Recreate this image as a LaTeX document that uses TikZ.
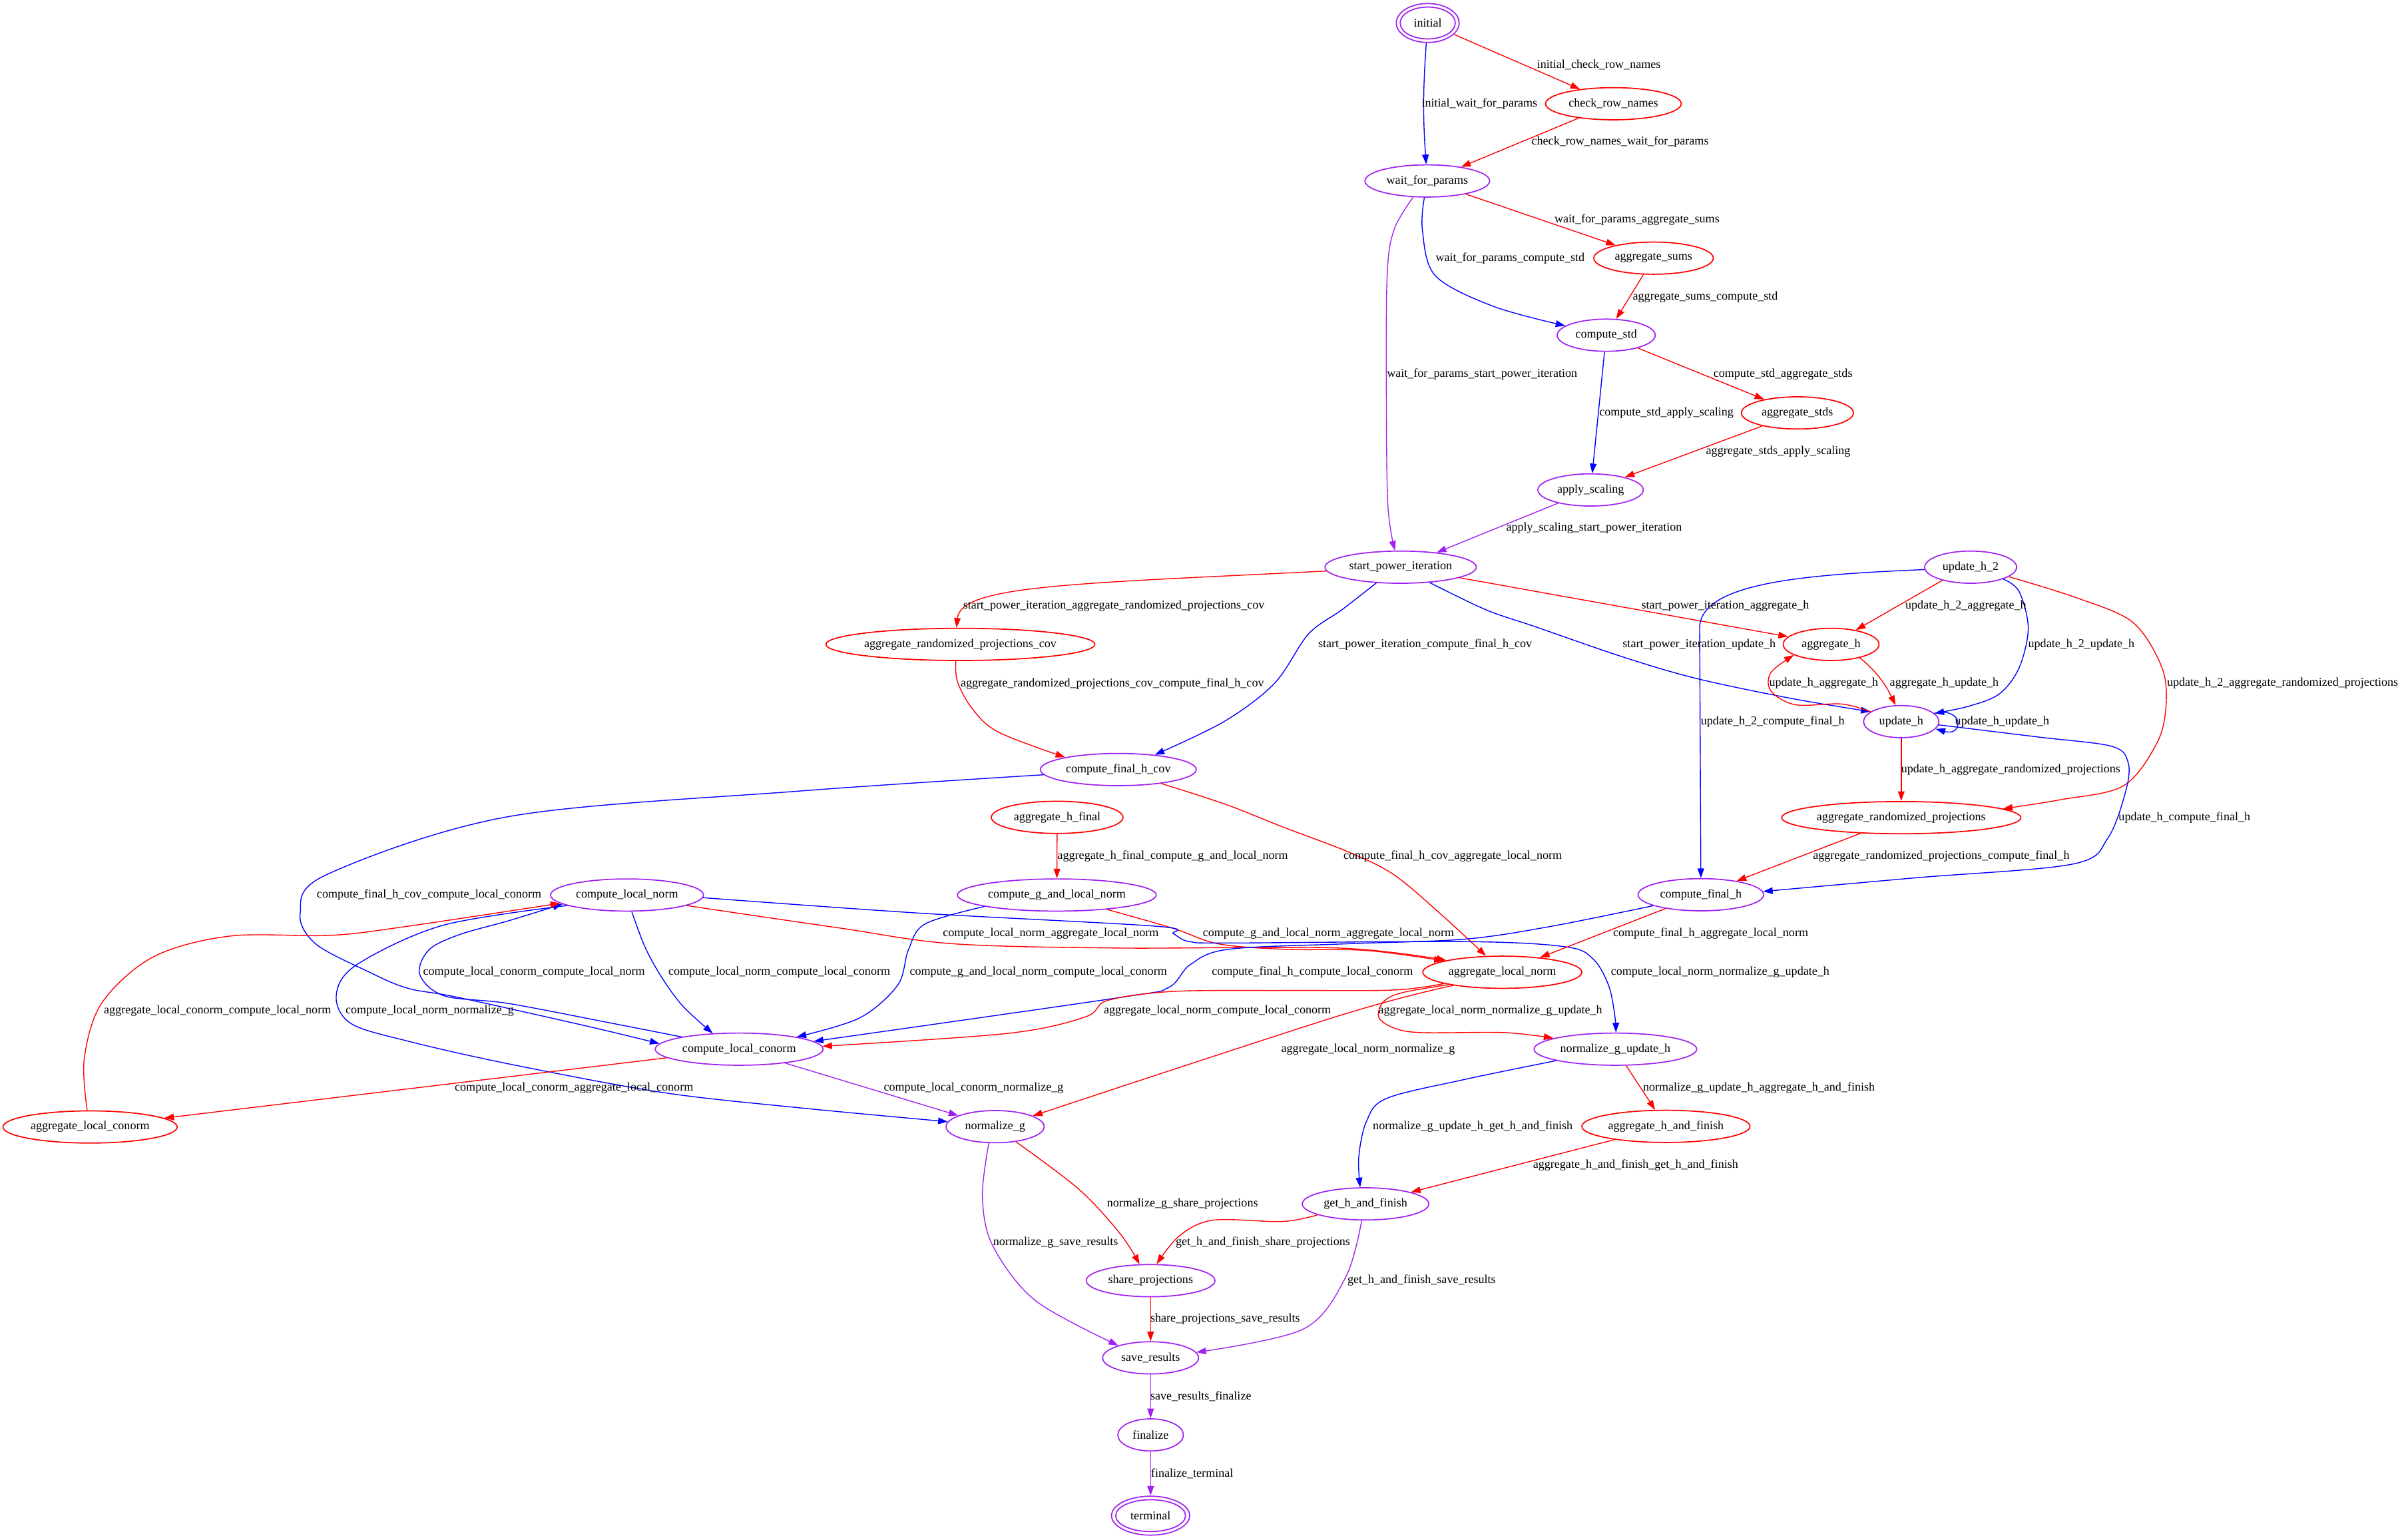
\documentclass[tikz,border=0pt]{standalone}
\usepackage{fontspec}
\setmainfont{Liberation Serif}
\usetikzlibrary{arrows.meta,shapes.geometric}
\definecolor{gvpurple}{HTML}{A020F0}
\begin{document}
\begin{tikzpicture}[x=1pt,y=-1pt,
  font=\fontsize{7.85pt}{9pt}\selectfont,
  st/.style={ellipse, draw, line width=0.75pt, inner sep=0pt, inner xsep=-60pt, inner ysep=-20pt, minimum height=21pt},
  pn/.style={st, draw=gvpurple},
  rn/.style={st, draw=red},
  e/.style={line width=0.6pt, -{Triangle[length=6.3pt,width=4.3pt]}},
  sm/.style={smooth, tension=0.55},
  lab/.style={inner sep=0pt, anchor=center}]
\useasboundingbox (0,0) rectangle (1568,1005);

% ---------------- nodes ----------------
\node[pn, minimum width=41pt, minimum height=25.4pt] (initial) at (932,15) {initial};
\draw[gvpurple, line width=0.75pt] (initial.center) ellipse [x radius=18pt, y radius=10.4pt];
\node[rn, minimum width=88.6pt] (crn) at (1053.2,67.7) {check\_row\_names};
\node[pn, minimum width=81.4pt] (wfp) at (931.7,118.1) {wait\_for\_params};
\node[rn, minimum width=78pt] (asum) at (1079.4,168.5) {aggregate\_sums};
\node[pn, minimum width=64pt] (cstd) at (1048.5,218.8) {compute\_std};
\node[rn, minimum width=73.2pt] (astd) at (1173.3,269.5) {aggregate\_stds};
\node[pn, minimum width=68.8pt] (aps) at (1038.3,319.8) {apply\_scaling};
\node[pn, minimum width=98.8pt] (spi) at (914.3,370.2) {start\_power\_iteration};
\node[rn, minimum width=175.6pt] (arpc) at (626.9,420.6) {aggregate\_randomized\_projections\_cov};
\node[pn, minimum width=101.8pt] (cfhc) at (730,502.3) {compute\_final\_h\_cov};
\node[rn, minimum width=86pt] (ahfin) at (690.1,533.5) {aggregate\_h\_final};
\node[pn, minimum width=60pt] (uh2) at (1286.4,370.2) {update\_h\_2};
\node[rn, minimum width=62.6pt] (ah) at (1195.3,420.6) {aggregate\_h};
\node[pn, minimum width=49.2pt] (uh) at (1241.1,471) {update\_h};
\node[rn, minimum width=156.2pt] (arp) at (1241.1,533.7) {aggregate\_randomized\_projections};
\node[pn, minimum width=82pt] (cfh) at (1110.3,584) {compute\_final\_h};
\node[pn, minimum width=99.8pt] (cln) at (409.3,584.2) {compute\_local\_norm};
\node[pn, minimum width=109.6pt] (clc) at (482.5,684.8) {compute\_local\_conorm};
\node[rn, minimum width=113.8pt] (alc) at (58.8,735.6) {aggregate\_local\_conorm};
\node[pn, minimum width=129.8pt] (cgln) at (689.9,584.2) {compute\_g\_and\_local\_norm};
\node[rn, minimum width=103.8pt] (aln) at (980.7,634.6) {aggregate\_local\_norm};
\node[pn, minimum width=64pt] (ng) at (649.6,735.4) {normalize\_g};
\node[pn, minimum width=106.2pt] (ngu) at (1054.5,684.8) {normalize\_g\_update\_h};
\node[rn, minimum width=109.8pt] (ahf) at (1087.5,735.2) {aggregate\_h\_and\_finish};
\node[pn, minimum width=82.6pt] (ghf) at (891.4,785.8) {get\_h\_and\_finish};
\node[pn, minimum width=84pt] (sp) at (751.1,835.9) {share\_projections};
\node[pn, minimum width=62.6pt] (sr) at (751.1,886.3) {save\_results};
\node[pn, minimum width=42.8pt] (fin) at (751.1,936.6) {finalize};
\node[pn, minimum width=51pt, minimum height=25.4pt] (term) at (751.1,989.3) {terminal};
\draw[gvpurple, line width=0.75pt] (term.center) ellipse [x radius=22.8pt, y radius=10.4pt];

% ---------------- edges ----------------
\draw[e,red] (initial) -- (crn);
\draw[e,blue] (initial) to[bend right=4] (wfp);
\draw[e,red] (crn) -- (wfp);
\draw[e,red] (wfp) -- (asum);
\draw[e,blue] plot[sm] coordinates {(wfp.-100) (928.5,150) (937,180) (975,200) (cstd.167)};
\draw[e,gvpurple] plot[sm] coordinates {(wfp.-131) (910,150) (905.5,180) (905,260) (906,330) (spi.109)};
\draw[e,red] (asum) -- (cstd);
\draw[e,red] (cstd) -- (astd);
\draw[e,blue] (cstd) -- (aps);
\draw[e,red] (astd) -- (aps);
\draw[e,gvpurple] (aps) -- (spi);
\draw[e,red] (spi.-177) .. controls (700,381) and (627,382) .. (arpc.103);
\draw[e,blue] plot[sm] coordinates {(spi.-147) (876,398) (854,414) (832,446) (799,471) (cfhc.22)};
\draw[e,red] (spi) -- (ah);
\draw[e,blue] plot[sm] coordinates {(spi.-28) (970,398) (1002,409) (1060,429) (1108,443) (1170,456) (uh.162)};
\draw[e,red] (uh2.-155) -- (ah.30);
\draw[e,blue] plot[sm] coordinates {(uh2.-20) (1318,386) (1324,410) (1318,436) (1305,453) (1285,461) (uh.14)};
\draw[e,blue] (uh2.-177) .. controls (1180,375) and (1109.5,380) .. (1109.5,410) -- (cfh.90);
\draw[e,red] plot[sm] coordinates {(uh2.-14) (1355,390) (1392,406) (1411,435) (1414,460) (1408,485) (1386,513) (1345,522) (arp.5)};
\draw[e,red] (ah.-25) to[out=-40,in=116] (uh.109);
\draw[e,red] plot[sm] coordinates {(uh.162) (1202,459.5) (1172,460) (1156,451) (1156,439) (ah.-164)};
\draw[e,blue] (uh.14) .. controls (1282,461) and (1282,481) .. (uh.-12);
\draw[e,red] (uh) -- (arp);
\draw[e,blue] plot[sm] coordinates {(uh.-5) (1330,481) (1378,487) (1389,497) (1388,515) (1376,547) (1353,564) (1250,573) (cfh.3)};
\draw[e,red] (arp) -- (cfh);
\draw[e,red] plot[sm] coordinates {(arpc.-105) (625,445) (635,463) (652,478) (cfhc.167)};
\draw[e,blue] plot[sm] coordinates {(cfhc.-176) (521,516.4) (332,533) (213,571) (196,596) (206,616) (240,634) (266,645) (299,651) (382,669.5) (clc.176)};
\draw[e,red] plot[sm] coordinates {(cfhc.-18) (800,525) (838,540) (880,556) (910,571) (942,598) (aln.135)};
\draw[e,red] (ahfin) -- (cgln);
\draw[e,blue] plot[sm] coordinates {(cgln.-171) (604,603) (593,620) (586,643) (561,664.5) (clc.12)};
\draw[e,red] plot[sm] coordinates {(cgln.-16) (766,606) (795,616) (838,619.6) (892,620.4) (aln.169)};
\draw[e,red] plot[sm] coordinates {(cln.-10) (478,595.5) (550,606) (622,616) (730,618.8) (874,618.8) (aln.168)};
\draw[e,blue] plot[sm] coordinates {(cln.-74) (421,618) (432,638) (446,657) (clc.149)};
\draw[e,blue] plot[sm] coordinates {(cln.-2) (600,596) (755,604.6) (766,609.5) (776,614.5) (802,615.5) (957,614.6) (1022,618) (1040,626) (1050,643) (1054,662) (ngu.88)};
\draw[e,blue] plot[sm] coordinates {(cln.-170) (289,604) (233,629.6) (219.5,649.6) (229,668) (266,679.5) (332.5,694.5) (432,713) (521,723) (ng.174)};
\draw[e,blue] plot[sm] coordinates {(clc.168) (400,668) (332,655) (290,650) (274,636) (280,620) (300,610) (332,601) (cln.-172)};
\draw[e,red] plot[sm] coordinates {(alc.100) (55,691) (66.5,654.6) (100,624.6) (150,611) (216,610.5) (266,604.6) (cln.-173)};
\draw[e,red] (clc) -- (alc);
\draw[e,blue] plot[sm] coordinates {(cfh.-167) (1011.6,604.8) (956,613) (880,616) (802,619.6) (777,629.6) (762.7,644.6) (730.3,651.2) (clc.6)};
\draw[e,red] plot[sm] coordinates {(aln.-169) (910,646.2) (840,646.5) (766,647.1) (723,653) (708.6,663.7) (658,674.5) (clc.2)};
\draw[e,red] plot[sm] coordinates {(aln.-165) (874,663) (ng.16)};
\draw[e,red] plot[sm] coordinates {(aln.-167) (915,648) (903,654) (900,664) (910,671) (928,674) (982,674) (ngu.170)};
\draw[e,red] (cfh) -- (aln);
\draw[e,gvpurple] (clc) -- (ng);
\draw[e,blue] plot[sm] coordinates {(ngu.-169) (956,704.6) (905,717) (892,732) (887,755) (ghf.108)};
\draw[e,red] (ngu) -- (ahf);
\draw[e,red] (ahf) -- (ghf);
\draw[e,red] plot[sm] coordinates {(ng.-36) (704,776) (731,805) (sp.124)};
\draw[e,gvpurple] plot[sm] coordinates {(ng.-111) (641.3,781) (648,813) (676,849) (sr.159)};
\draw[e,red] plot[sm] coordinates {(ghf.-167) (837,797.3) (792,796.4) (770,806.6) (sp.70)};
\draw[e,gvpurple] plot[sm] coordinates {(ghf.-103) (878.4,833.7) (850.6,867.6) (sr.7)};
\draw[e,red] (sp) -- (sr);
\draw[e,gvpurple] (sr) -- (fin);
\draw[e,gvpurple] (fin) -- (term);

% ---------------- edge labels ----------------
\node[lab] (l1) at (1043.7,42.5) {initial\_check\_row\_names};
\node[lab] (l2) at (965.8,67.7) {initial\_wait\_for\_params};
\node[lab] (l3) at (1057.6,92.7) {check\_row\_names\_wait\_for\_params};
\node[lab] (l4) at (1068.6,143.5) {wait\_for\_params\_aggregate\_sums};
\node[lab] (l5) at (985.8,168.5) {wait\_for\_params\_compute\_std};
\node[lab] (l6) at (1113.2,193.9) {aggregate\_sums\_compute\_std};
\node[lab] (l7) at (967.5,244.1) {wait\_for\_params\_start\_power\_iteration};
\node[lab] (l8) at (1163.9,244.1) {compute\_std\_aggregate\_stds};
\node[lab] (l9) at (1087.8,269.5) {compute\_std\_apply\_scaling};
\node[lab] (l10) at (1160.8,294.9) {aggregate\_stds\_apply\_scaling};
\node[lab] (l11) at (1040.6,344.9) {apply\_scaling\_start\_power\_iteration};
\node[lab] (l12) at (727.1,395.5) {start\_power\_iteration\_aggregate\_randomized\_projections\_cov};
\node[lab] (l13) at (726.1,446.2) {aggregate\_randomized\_projections\_cov\_compute\_final\_h\_cov};
\node[lab] (l14) at (930.3,420.9) {start\_power\_iteration\_compute\_final\_h\_cov};
\node[lab] (l15) at (1126.2,395.5) {start\_power\_iteration\_aggregate\_h};
\node[lab] (l16) at (1109.2,420.9) {start\_power\_iteration\_update\_h};
\node[lab] (l17) at (1157.2,471.2) {update\_h\_2\_compute\_final\_h};
\node[lab] (l18) at (1190.5,445.9) {update\_h\_aggregate\_h};
\node[lab] (l19) at (1283.3,395.6) {update\_h\_2\_aggregate\_h};
\node[lab] (l20) at (1358.7,420.6) {update\_h\_2\_update\_h};
\node[lab] (l21) at (1490,445.9) {update\_h\_2\_aggregate\_randomized\_projections};
\node[lab] (l22) at (1269.2,445.9) {aggregate\_h\_update\_h};
\node[lab] (l23) at (1307,471) {update\_h\_update\_h};
\node[lab] (l24) at (1312.6,502.5) {update\_h\_aggregate\_randomized\_projections};
\node[lab] (l25) at (1426,533.7) {update\_h\_compute\_final\_h};
\node[lab] (l26) at (1267.2,559) {aggregate\_randomized\_projections\_compute\_final\_h};
\node[lab] (l27) at (280.1,584.2) {compute\_final\_h\_cov\_compute\_local\_conorm};
\node[lab] (l28) at (348.6,634.6) {compute\_local\_conorm\_compute\_local\_norm};
\node[lab] (l29) at (508.7,634.6) {compute\_local\_norm\_compute\_local\_conorm};
\node[lab] (l30) at (142,659.9) {aggregate\_local\_conorm\_compute\_local\_norm};
\node[lab] (l31) at (280.5,659.9) {compute\_local\_norm\_normalize\_g};
\node[lab] (l32) at (374.7,710.3) {compute\_local\_conorm\_aggregate\_local\_conorm};
\node[lab] (l33) at (765.6,558.9) {aggregate\_h\_final\_compute\_g\_and\_local\_norm};
\node[lab] (l34) at (948.3,558.9) {compute\_final\_h\_cov\_aggregate\_local\_norm};
\node[lab] (l35) at (685.9,609.3) {compute\_local\_norm\_aggregate\_local\_norm};
\node[lab] (l36) at (867.2,609.3) {compute\_g\_and\_local\_norm\_aggregate\_local\_norm};
\node[lab] (l37) at (677.8,634.6) {compute\_g\_and\_local\_norm\_compute\_local\_conorm};
\node[lab] (l38) at (856.7,634.6) {compute\_final\_h\_compute\_local\_conorm};
\node[lab] (l39) at (794.7,659.9) {aggregate\_local\_norm\_compute\_local\_conorm};
\node[lab] (l40) at (972.9,659.9) {aggregate\_local\_norm\_normalize\_g\_update\_h};
\node[lab] (l41) at (893.1,685) {aggregate\_local\_norm\_normalize\_g};
\node[lab] (l42) at (635.6,710.3) {compute\_local\_conorm\_normalize\_g};
\node[lab] (l43) at (961.4,735.4) {normalize\_g\_update\_h\_get\_h\_and\_finish};
\node[lab] (l44) at (1116.7,609.3) {compute\_final\_h\_aggregate\_local\_norm};
\node[lab] (l45) at (1122.9,634.4) {compute\_local\_norm\_normalize\_g\_update\_h};
\node[lab] (l46) at (1148.2,710) {normalize\_g\_update\_h\_aggregate\_h\_and\_finish};
\node[lab] (l47) at (1067.7,760.4) {aggregate\_h\_and\_finish\_get\_h\_and\_finish};
\node[lab] (l48) at (771.9,785.8) {normalize\_g\_share\_projections};
\node[lab] (l49) at (689.1,810.8) {normalize\_g\_save\_results};
\node[lab] (l50) at (824.4,810.8) {get\_h\_and\_finish\_share\_projections};
\node[lab] (l51) at (928,835.9) {get\_h\_and\_finish\_save\_results};
\node[lab] (l52) at (799.8,861) {share\_projections\_save\_results};
\node[lab] (l53) at (783.9,911.4) {save\_results\_finalize};
\node[lab] (l54) at (778.2,961.7) {finalize\_terminal};
\end{tikzpicture}
\end{document}
